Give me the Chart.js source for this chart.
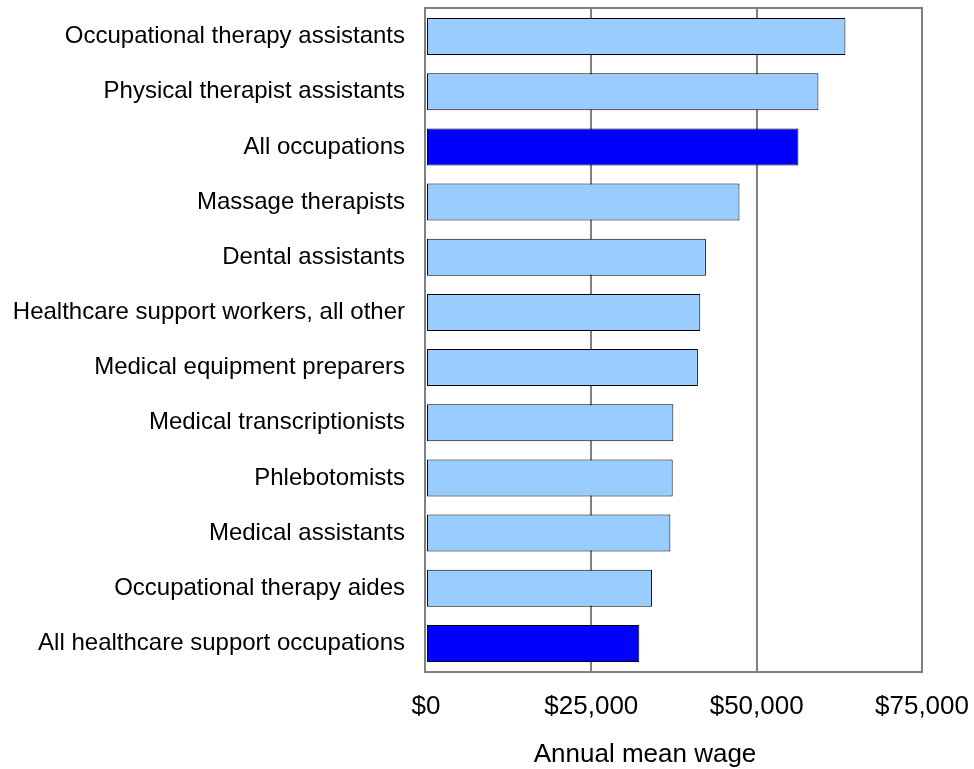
<!DOCTYPE html>
<html>
<head>
<meta charset="utf-8">
<script src="https://cdn.jsdelivr.net/npm/chart.js@4/dist/chart.umd.min.js"></script>
<style>
  html, body { margin: 0; padding: 0; background: #ffffff; }
  #wrap { width: 974px; height: 769px; position: relative; }
</style>
</head>
<body>
<div id="wrap"><canvas id="c" width="974" height="769"></canvas></div>
<script>
const categories = [
  "Occupational therapy assistants",
  "Physical therapist assistants",
  "All occupations",
  "Massage therapists",
  "Dental assistants",
  "Healthcare support workers, all other",
  "Medical equipment preparers",
  "Medical transcriptionists",
  "Phlebotomists",
  "Medical assistants",
  "Occupational therapy aides",
  "All healthcare support occupations"
];
const wages = [63420, 59340, 56310, 47400, 42320, 41470, 41110, 37400, 37300, 36950, 34180, 32250];
const highlighted = [false, false, true, false, false, false, false, false, false, false, false, true];
const xTicks = [0, 25000, 50000, 75000];
const xTitle = "Annual mean wage";

const LIGHT = "#99CCFF";
const DARK = "#0000FF";
const FONT = "'Liberation Sans', Arial, sans-serif";

const frameAndTitle = {
  id: "frameAndTitle",
  afterDatasetsDraw(chart) {
    const ctx = chart.ctx;
    const a = chart.chartArea;
    ctx.save();
    ctx.strokeStyle = "#808080";
    ctx.lineWidth = 2;
    ctx.strokeRect(a.left - 1, a.top - 1, a.right - a.left + 1, a.bottom - a.top + 2);
    ctx.fillStyle = "#000000";
    ctx.font = "26px " + FONT;
    ctx.textAlign = "center";
    ctx.textBaseline = "middle";
    const xs = chart.scales.x;
    const cx = (xs.left + xs.right) / 2 - 29;
    ctx.fillText(xTitle, cx, 755);
    ctx.restore();
  }
};

new Chart(document.getElementById("c"), {
  type: "bar",
  data: {
    labels: categories,
    datasets: [{
      data: wages,
      backgroundColor: highlighted.map(h => h ? DARK : LIGHT),
      borderColor: "#000000",
      borderWidth: 1,
      borderSkipped: false,
      barPercentage: 0.67,
      categoryPercentage: 1.0
    }]
  },
  options: {
    indexAxis: "y",
    responsive: false,
    animation: false,
    devicePixelRatio: 1,
    layout: { padding: { left: 0, right: 52, top: 9, bottom: 0 } },
    plugins: { legend: { display: false }, tooltip: { enabled: false } },
    scales: {
      x: {
        min: 0, max: 75000,
        afterBuildTicks(scale) { scale.ticks = xTicks.map(v => ({ value: v })); },
        afterFit(scale) { scale.height = 98; scale.paddingLeft = 0; scale.paddingRight = 0; },
        border: { display: false },
        grid: {
          color: (c) => (c.tick && (c.tick.value === 0 || c.tick.value === 75000)) ? "rgba(0,0,0,0)" : "#808080",
          lineWidth: 2,
          drawTicks: false
        },
        ticks: {
          padding: 20,
          color: "#000000",
          font: { family: FONT, size: 26 },
          maxRotation: 0,
          autoSkip: false,
          callback: (v) => "$" + Number(v).toLocaleString("en-US")
        }
      },
      y: {
        afterFit(scale) { scale.width = 426; scale.paddingTop = 0; scale.paddingBottom = 0; },
        border: { display: false },
        grid: { display: false, drawTicks: false },
        ticks: {
          padding: 21,
          color: "#000000",
          font: { family: FONT, size: 24 },
          autoSkip: false
        }
      }
    }
  },
  plugins: [frameAndTitle]
});
</script>
</body>
</html>
